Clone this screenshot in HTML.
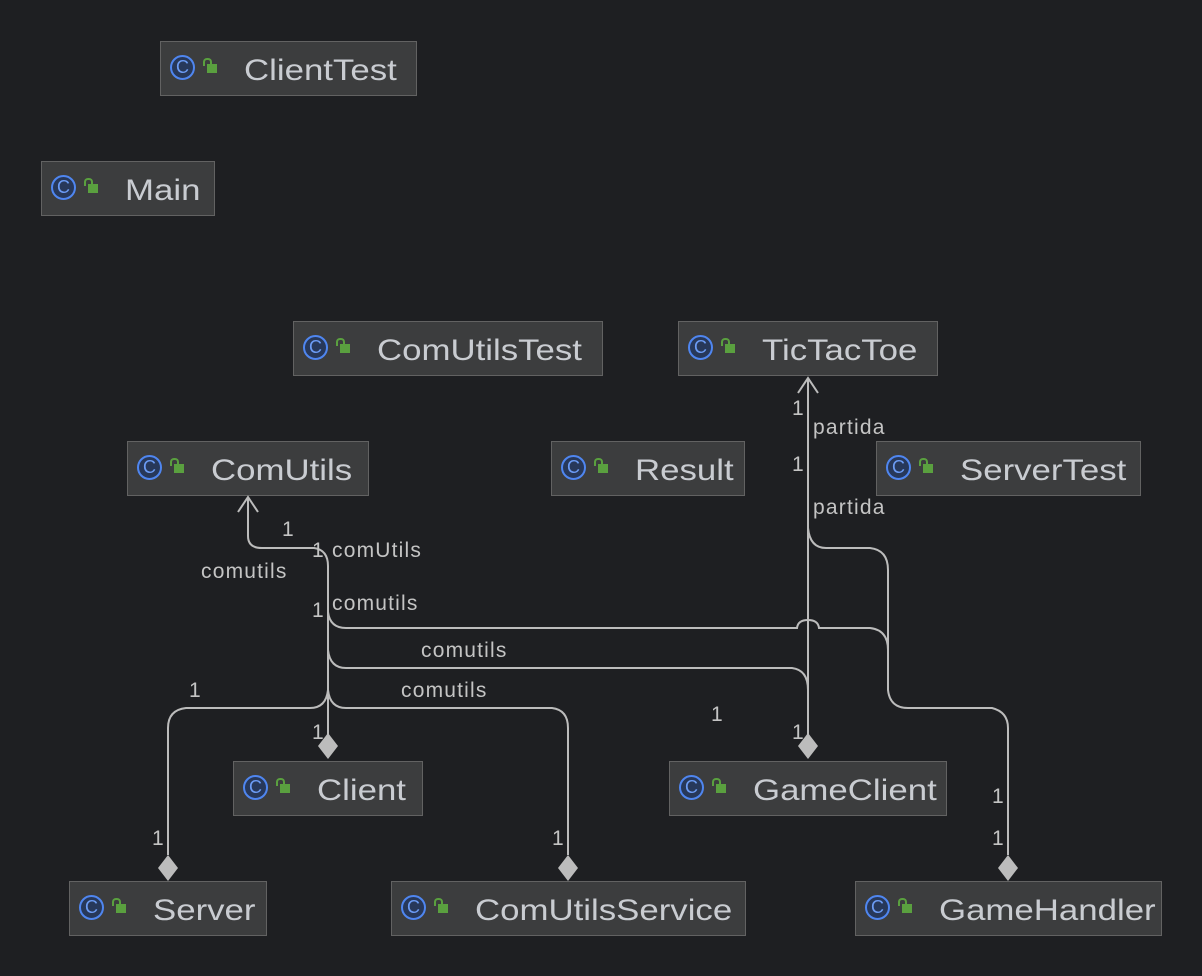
<!DOCTYPE html>
<html><head><style>
body{margin:0;width:1202px;height:976px;background:#1e1f22;overflow:hidden;position:relative;font-family:"Liberation Sans",sans-serif}
.n{position:absolute;background:#3c3d3e;border:1px solid #626262;box-sizing:border-box;height:55px;color:#c9ccd1;font-size:30px;line-height:55px;white-space:nowrap}
.n .c{position:absolute;left:9px;top:13px;width:25px;height:25px;border:2px solid #4f86f0;border-radius:50%;box-sizing:border-box;background:#27385a;color:#6c9cf5;font-size:18px;line-height:21px;text-align:center}
.n .l{position:absolute;left:46px;top:22px;width:10px;height:9px;background:#5aa03f}
.n .l:before{content:"";position:absolute;left:-4px;top:-6px;width:5px;height:6px;border:2px solid #5aa03f;border-bottom:none;border-radius:4px 4px 0 0}
.n span{position:absolute;left:83px;top:1px;transform:scaleX(1.16);transform-origin:0 0}
</style></head><body>
<div class="n" style="left:160px;top:41px;width:257px"><div class="c">C</div><div class="l"></div><span>ClientTest</span></div>
<div class="n" style="left:41px;top:161px;width:174px"><div class="c">C</div><div class="l"></div><span>Main</span></div>
<div class="n" style="left:293px;top:321px;width:310px"><div class="c">C</div><div class="l"></div><span>ComUtilsTest</span></div>
<div class="n" style="left:678px;top:321px;width:260px"><div class="c">C</div><div class="l"></div><span>TicTacToe</span></div>
<div class="n" style="left:127px;top:441px;width:242px"><div class="c">C</div><div class="l"></div><span>ComUtils</span></div>
<div class="n" style="left:551px;top:441px;width:194px"><div class="c">C</div><div class="l"></div><span>Result</span></div>
<div class="n" style="left:876px;top:441px;width:265px"><div class="c">C</div><div class="l"></div><span>ServerTest</span></div>
<div class="n" style="left:233px;top:761px;width:190px"><div class="c">C</div><div class="l"></div><span>Client</span></div>
<div class="n" style="left:669px;top:761px;width:278px"><div class="c">C</div><div class="l"></div><span>GameClient</span></div>
<div class="n" style="left:69px;top:881px;width:198px"><div class="c">C</div><div class="l"></div><span>Server</span></div>
<div class="n" style="left:391px;top:881px;width:355px"><div class="c">C</div><div class="l"></div><span>ComUtilsService</span></div>
<div class="n" style="left:855px;top:881px;width:307px"><div class="c">C</div><div class="l"></div><span>GameHandler</span></div>
<svg width="1202" height="976" style="position:absolute;left:0;top:0" fill="none" stroke="#bcbcbc" stroke-width="2">
<path d="M248 497 V536 Q248 548 262 548 H314 Q328 550 328 566 V735"/>
<path d="M238 512 L248 497 L258 512"/>
<path d="M328 612 Q330 628 346 628 H797 Q798 620 808 620 Q818 620 819 628 H870 Q888 630 888 650 V690 Q890 708 908 708 H992 Q1008 712 1008 728 V855"/>
<path d="M328 650 Q330 668 346 668 H792 Q808 670 808 690"/>
<path d="M808 378 V735"/>
<path d="M798 393 L808 378 L818 393"/>
<path d="M808 528 Q810 548 826 548 H870 Q888 550 888 570 V650"/>
<path d="M328 690 Q326 708 310 708 H186 Q168 710 168 728 V855"/>
<path d="M328 690 Q330 708 346 708 H552 Q568 710 568 728 V855"/>
<g fill="#bcbcbc" stroke="none">
<path d="M328 733 L338 746 L328 759 L318 746Z"/>
<path d="M808 733 L818 746 L808 759 L798 746Z"/>
<path d="M168 855 L178 868 L168 881 L158 868Z"/>
<path d="M568 855 L578 868 L568 881 L558 868Z"/>
<path d="M1008 855 L1018 868 L1008 881 L998 868Z"/>
</g>
<g fill="#c4c4c4" stroke="none" font-family="Liberation Sans, sans-serif" font-size="21" letter-spacing="1.2">
<text x="282" y="536">1</text><text x="312" y="557">1</text><text x="332" y="557">comUtils</text>
<text x="201" y="578">comutils</text><text x="312" y="617">1</text><text x="332" y="610">comutils</text>
<text x="421" y="657">comutils</text><text x="401" y="697">comutils</text><text x="189" y="697">1</text>
<text x="312" y="739">1</text><text x="152" y="845">1</text><text x="552" y="845">1</text>
<text x="711" y="721">1</text><text x="792" y="739">1</text><text x="792" y="415">1</text><text x="792" y="471">1</text>
<text x="813" y="434">partida</text><text x="813" y="514">partida</text>
<text x="992" y="803">1</text><text x="992" y="845">1</text>
</g>
</svg>
</body></html>
